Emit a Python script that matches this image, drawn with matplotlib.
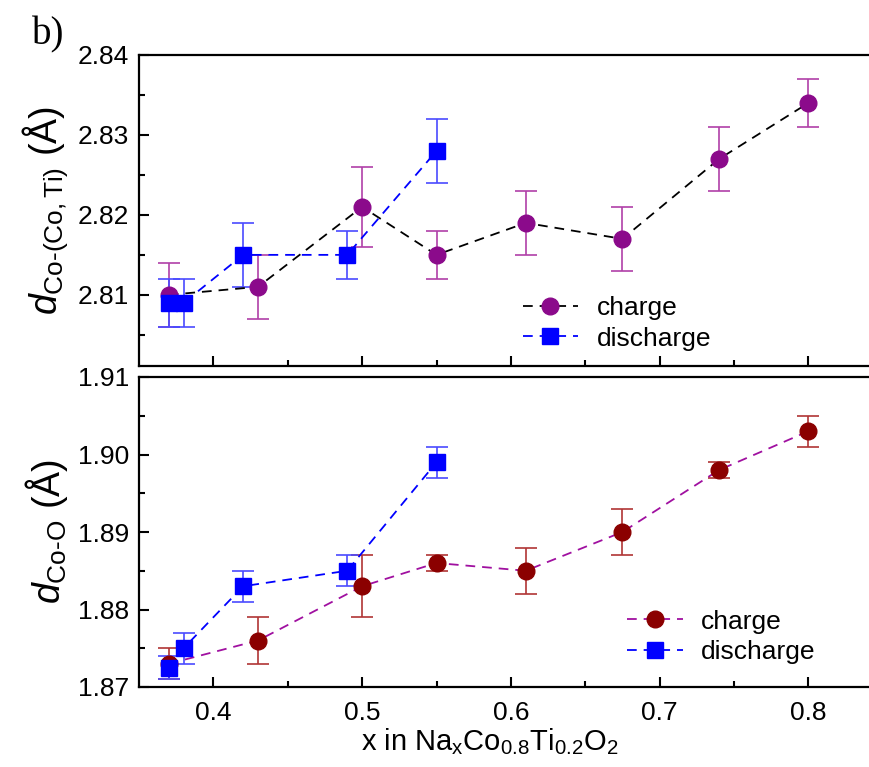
import matplotlib
matplotlib.use("Agg")
import matplotlib.pyplot as plt

plt.rcParams['font.family'] = ['Liberation Sans', 'DejaVu Sans']
plt.rcParams['mathtext.fontset'] = 'custom'
plt.rcParams['mathtext.rm'] = 'Liberation Sans'
plt.rcParams['mathtext.it'] = 'Liberation Sans:italic'
plt.rcParams['lines.scale_dashes'] = False

# top panel: Co-(Co,Ti) distance
top_x_ch = [0.37, 0.43, 0.50, 0.55, 0.61, 0.675, 0.74, 0.80]
top_y_ch = [2.810, 2.811, 2.821, 2.815, 2.819, 2.817, 2.827, 2.834]
top_e_ch = [0.004, 0.004, 0.005, 0.003, 0.004, 0.004, 0.004, 0.003]
top_x_dis = [0.37, 0.38, 0.42, 0.49, 0.55]
top_y_dis = [2.809, 2.809, 2.815, 2.815, 2.828]
top_e_dis = [0.003, 0.003, 0.004, 0.003, 0.004]

# bottom panel: Co-O distance
bot_x_ch = [0.37, 0.43, 0.50, 0.55, 0.61, 0.675, 0.74, 0.80]
bot_y_ch = [1.873, 1.876, 1.883, 1.886, 1.885, 1.890, 1.898, 1.903]
bot_e_ch = [0.002, 0.003, 0.004, 0.001, 0.003, 0.003, 0.001, 0.002]
bot_x_dis = [0.37, 0.38, 0.42, 0.49, 0.55]
bot_y_dis = [1.8725, 1.875, 1.883, 1.885, 1.899]
bot_e_dis = [0.0015, 0.002, 0.002, 0.002, 0.002]

fig = plt.figure(figsize=(8.7, 7.67), dpi=100)
W, H = 870.0, 767.0
ax1 = fig.add_axes([139 / W, (H - 366) / H, (W - 139) / W, 311 / H])
ax2 = fig.add_axes([139 / W, (H - 687) / H, (W - 139) / W, 310 / H])

def series(ax, x, y, e, mk, ms, mcol, ecol, lcol, label):
    ax.errorbar(x, y, yerr=e, fmt='none', ecolor=ecol, elinewidth=1.2,
                capsize=8, capthick=1.2, zorder=2)
    line, = ax.plot(x, y, linestyle='--', dashes=(7, 5), color=lcol, lw=1.3,
                    marker=mk, ms=ms, mfc=mcol, mec=mcol, label=label, zorder=3)
    return line

h1 = series(ax1, top_x_ch, top_y_ch, top_e_ch, 'o', 12, '#8b0a8b', '#b040a8', 'black', 'charge')
h2 = series(ax1, top_x_dis, top_y_dis, top_e_dis, 's', 11, '#0000ff', '#4a4aff', '#0000ff', 'discharge')
h3 = series(ax2, bot_x_ch, bot_y_ch, bot_e_ch, 'o', 12, '#8b0000', '#b03535', '#a010a0', 'charge')
h4 = series(ax2, bot_x_dis, bot_y_dis, bot_e_dis, 's', 11, '#0000ff', '#4a4aff', '#0000ff', 'discharge')

for ax in (ax1, ax2):
    ax.set_xlim(0.35, 0.35 + 731 / 1487.5)
    ax.set_xticks([0.4, 0.5, 0.6, 0.7, 0.8])
    ax.set_xticks([0.45, 0.55, 0.65, 0.75], minor=True)
    ax.spines['right'].set_visible(False)
    for s in ('left', 'bottom', 'top'):
        ax.spines[s].set_linewidth(1.6)
    ax.tick_params(which='both', direction='in', width=1.5, labelsize=19,
                   top=False, right=False)
    ax.tick_params(which='major', length=7)
    ax.tick_params(which='minor', length=4)
    ax.tick_params(axis='y', pad=7)
    ax.tick_params(axis='x', pad=10)

ax1.set_ylim(2.8011, 2.84)
ax1.set_yticks([2.81, 2.82, 2.83, 2.84])
ax1.set_yticks([2.805, 2.815, 2.825, 2.835], minor=True)
ax1.set_yticklabels(['2.81', '2.82', '2.83', '2.84'])
ax1.tick_params(axis='x', labelbottom=False)

ax2.set_ylim(1.87, 1.91)
ax2.set_yticks([1.87, 1.88, 1.89, 1.90, 1.91])
ax2.set_yticks([1.875, 1.885, 1.895, 1.905], minor=True)
ax2.set_yticklabels(['1.87', '1.88', '1.89', '1.90', '1.91'])
ax2.set_xticklabels(['0.4', '0.5', '0.6', '0.7', '0.8'])

ax1.set_ylabel(r'$d_{\mathrm{Co\text{-}(Co,Ti)}}$ (Å)', fontsize=27)
ax2.set_ylabel(r'$d_{\mathrm{Co\text{-}O}}$ (Å)', fontsize=27)
ax1.yaxis.set_label_coords(-0.095, 0.5)
ax2.yaxis.set_label_coords(-0.095, 0.5)

ax2.set_xlabel(r'x in Na$_\mathrm{x}$Co$_\mathrm{0.8}$Ti$_\mathrm{0.2}$O$_\mathrm{2}$', fontsize=21)
ax2.xaxis.set_label_coords(0.48, -0.125)

leg_kw = dict(frameon=False, fontsize=19, handlelength=2.1, handletextpad=0.7,
              labelspacing=0.25, borderpad=0, borderaxespad=0, loc='upper left')
ax1.legend(handles=[h1, h2], bbox_to_anchor=(0.525, 0.225), **leg_kw)
ax2.legend(handles=[h3, h4], bbox_to_anchor=(0.668, 0.25), **leg_kw)

fig.text(32 / W, 1 - 44 / H, 'b)', fontsize=28, family='Liberation Serif')

fig.savefig('out.png', dpi=100)
